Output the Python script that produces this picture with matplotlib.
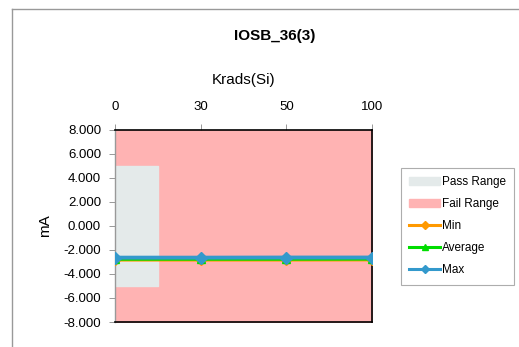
from matplotlib import pyplot as plt
from matplotlib.lines import Line2D
from matplotlib.patches import Patch
import numpy as np

doses = ["0", "30", "50", "100"]
minVals = [-2.85, -2.85, -2.85, -2.84]
avgVals = [-2.78, -2.78, -2.78, -2.77]
maxVals = [-2.65, -2.65, -2.64, -2.64]
passRange = [-5.0, 5.0]
failRange = [-8.0, 8.0]
passWidth = 0.5

fig = plt.figure(figsize=(5.19, 3.47), dpi=100)
ax = fig.add_axes([0.2216, 0.072, 0.4952, 0.5548])

x = np.arange(len(doses))

ax.fill_between([x[0], x[-1]], failRange[0], failRange[1], color="#FFB3B3", zorder=1)
ax.fill_between([x[0], x[0] + passWidth], passRange[0], passRange[1], color="#E4EAEA", zorder=2)

ax.plot(x, minVals, color="#FF9900", lw=2.2, marker="D", ms=5, zorder=3)
ax.plot(x, avgVals, color="#00DD00", lw=2.2, marker="^", ms=6, zorder=4)
ax.plot(x, maxVals, color="#3399CC", lw=2.8, marker="D", ms=6, zorder=5)

ax.set_xlim(x[0], x[-1])
ax.set_ylim(-8, 8)
ax.set_yticks(np.arange(-8, 9, 2))
ax.set_yticklabels(["%.3f" % v for v in np.arange(-8, 9, 2)], fontsize=9.5, family="Liberation Sans")
ax.xaxis.tick_top()
ax.xaxis.set_label_position("top")
ax.set_xticks(x)
ax.set_xticklabels(doses, fontsize=9.5, family="Liberation Sans")
ax.tick_params(axis="x", length=4, width=0.6, color="#888888", pad=8)
ax.tick_params(axis="y", length=4, width=0.6, color="#888888", pad=6)
ax.set_xlabel("Krads(Si)", fontsize=11, family="Liberation Sans", labelpad=12)
ax.set_ylabel("mA", fontsize=11, family="Liberation Sans", labelpad=8)

for side in ["top", "right", "bottom"]:
    ax.spines[side].set_color("black")
    ax.spines[side].set_linewidth(1.2)
ax.spines["left"].set_color("#999999")
ax.spines["left"].set_linewidth(1.0)

fig.text(0.53, 0.895, "IOSB_36(3)", ha="center", va="center", fontsize=11,
         fontweight="bold", family="Liberation Sans")

handles = [
    Patch(color="#E4EAEA"),
    Patch(color="#FFB3B3"),
    Line2D([], [], color="#FF9900", lw=2.2, marker="D", ms=4),
    Line2D([], [], color="#00DD00", lw=2.2, marker="^", ms=5),
    Line2D([], [], color="#3399CC", lw=2.2, marker="D", ms=4),
]
labels = ["Pass Range", "Fail Range", "Min", "Average", "Max"]
leg = fig.legend(handles, labels, loc="upper left", bbox_to_anchor=(401 / 519, 1 - 168 / 347),
                 prop={"family": "Liberation Sans", "size": 8.5},
                 frameon=True, fancybox=False, edgecolor="#999999",
                 handlelength=2.6, handletextpad=0.15, labelspacing=0.85,
                 borderpad=0.7, borderaxespad=0)
leg.get_frame().set_linewidth(0.8)

fig.add_artist(Line2D([12 / 519, 1], [1 - 9 / 347, 1 - 9 / 347], color="#999999", lw=1))
fig.add_artist(Line2D([12 / 519, 12 / 519], [0, 1 - 9 / 347], color="#999999", lw=1))

fig.savefig("out.png", dpi=100)
